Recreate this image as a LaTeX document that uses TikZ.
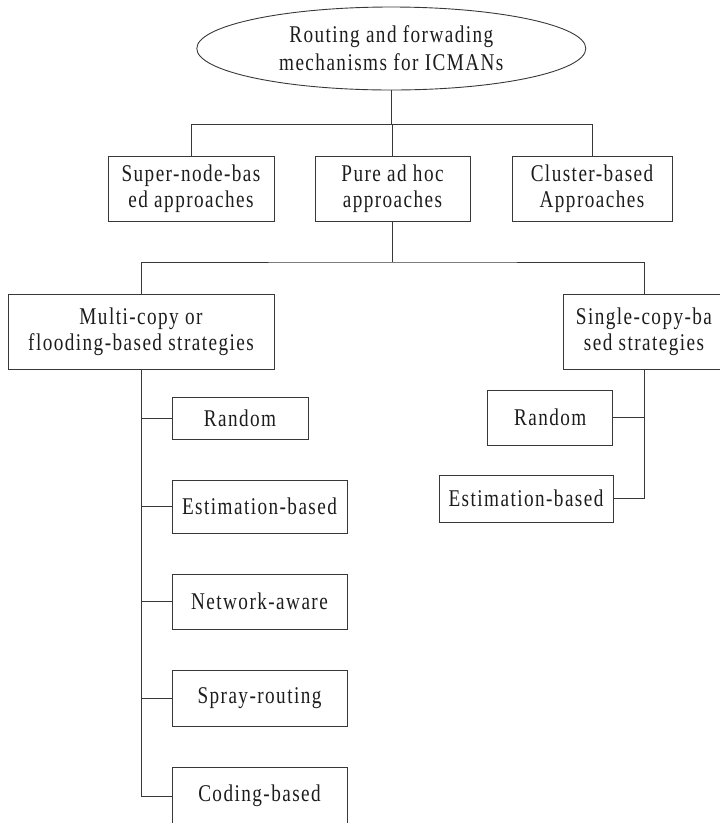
\documentclass[tikz,border=0pt]{standalone}
\usepackage{fontspec}
\setmainfont{Liberation Serif}[FakeStretch=0.8, LetterSpace=6]
\usetikzlibrary{shapes.geometric}

\definecolor{lineclr}{HTML}{383838}
\definecolor{textclr}{HTML}{1C1C1C}

\begin{document}
\begin{tikzpicture}[
    x=1pt, y=-1pt,
    box/.style={draw=lineclr, line width=0.9pt, rectangle, inner sep=0pt,
                align=center, text=textclr, font=\fontsize{24}{26}\selectfont},
    rootbox/.style={draw=lineclr, line width=0.9pt, ellipse, inner sep=0pt,
                align=center, text=textclr, font=\fontsize{24}{28}\selectfont},
    link/.style={draw=lineclr, line width=0.9pt}
  ]
  \useasboundingbox (0,0) rectangle (720,823);

  % root
  \node[rootbox, minimum width=389pt, minimum height=83pt] (root) at (391.3,48.5)
    {Routing and forwading\\mechanisms for ICMANs};

  % first level
  \node[box, minimum width=166pt, minimum height=65pt] (super) at (191,188.5)
    {Super-node-bas\\ed approaches};
  \node[box, minimum width=155pt, minimum height=65pt] (pure) at (392.5,188.5)
    {Pure ad hoc\\approaches};
  \node[box, minimum width=160pt, minimum height=65pt] (cluster) at (592,188.5)
    {Cluster-based\\Approaches};

  % second level
  \node[box, minimum width=266pt, minimum height=75pt] (multi) at (141,331.5)
    {Multi-copy or\\flooding-based strategies};
  \node[box, minimum width=161pt, minimum height=75pt] (single) at (644,331.5)
    {Single-copy-ba\\sed strategies};

  % multi-copy leaves
  \node[box, minimum width=136pt, minimum height=42pt] (lrand) at (240,418) {Random};
  \node[box, minimum width=175pt, minimum height=53pt] (lest) at (259.5,506.5) {Estimation-based};
  \node[box, minimum width=175pt, minimum height=55pt] (lnet) at (259.5,601.7) {Network-aware};
  \node[box, minimum width=175pt, minimum height=56pt] (lspray) at (259.5,698) {Spray-routing};
  \node[box, minimum width=175pt, minimum height=58pt] (lcode) at (259.5,796) {Coding-based};

  % single-copy leaves
  \node[box, minimum width=125pt, minimum height=55pt] (rrand) at (550.2,417.5) {Random};
  \node[box, minimum width=174pt, minimum height=47pt] (rest) at (526,498.5) {Estimation-based};

  % buses
  \coordinate (b1) at (391.5,124.7);
  \coordinate (b2) at (392.5,262);

  \draw[link] (root.south) -- (root.south |- b1);
  \draw[link] (super.north) |- (b1) -| (cluster.north);
  \draw[link] (pure.north) -- (pure.north |- b1);

  \draw[link] (pure.south) -- (b2);
  \draw[link] (multi.north) |- (b2) -| (single.north);

  % multi-copy spine
  \draw[link] (multi.south) |- (lcode.west);
  \foreach \n in {lrand,lest,lnet,lspray}
    \draw[link] (\n.west) -- (\n.west -| multi.south);

  % single-copy spine
  \draw[link] (single.south) |- (rest.east);
  \draw[link] (rrand.east) -- (rrand.east -| single.south);
\end{tikzpicture}
\end{document}
